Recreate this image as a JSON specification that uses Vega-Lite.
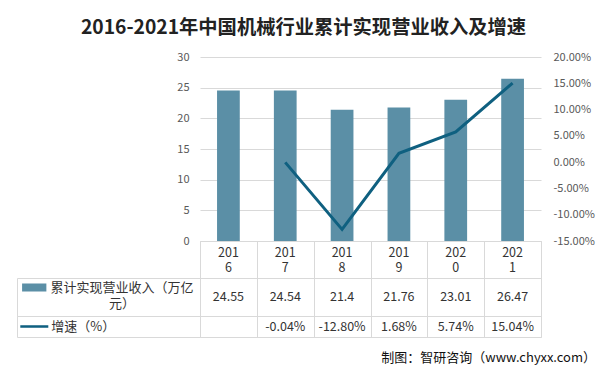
{
  "$schema": "https://vega.github.io/schema/vega-lite/v6.json",
  "background": "white",
  "padding": {"left": 16, "top": 18, "right": 0, "bottom": 0},
  "title": {"text": "2016-2021年中国机械行业累计实现营业收入及增速", "anchor": "start", "align": "center", "dx": 287, "fontSize": 19.3, "fontWeight": "bold", "color": "#222222", "font": "Noto Sans CJK SC", "offset": 13},
  "datasets": {
    "main": [
      {"year": "2016", "revenue": 24.55, "growth": null},
      {"year": "2017", "revenue": 24.54, "growth": -0.0004},
      {"year": "2018", "revenue": 21.4, "growth": -0.128},
      {"year": "2019", "revenue": 21.76, "growth": 0.0168},
      {"year": "2020", "revenue": 23.01, "growth": 0.0574},
      {"year": "2021", "revenue": 26.47, "growth": 0.1504}
    ]
  },
  "columns": 2,
  "spacing": 0,
  "bounds": "flush",
  "align": "each",
  "resolve": {"scale": {"x": "independent", "y": "independent"}},
  "concat": [
    {"width": 183, "height": 184, "data": {"values": []}, "mark": "point"},
    {
      "width": 341,
      "height": 184,
      "data": {"name": "main"},
      "encoding": {
        "x": {"field": "year", "type": "ordinal", "scale": {"domain": ["2016", "2017", "2018", "2019", "2020", "2021"], "paddingInner": 0, "paddingOuter": 0}, "axis": null}
      },
      "layer": [
        {
          "mark": {"type": "bar", "width": {"band": 0.4}, "color": "#5b8fa6"},
          "encoding": {
            "y": {"field": "revenue", "type": "quantitative", "scale": {"domain": [0, 30]},
              "axis": {"title": null, "values": [0, 5, 10, 15, 20, 25, 30], "grid": true, "gridColor": "#d9d9d9", "domain": false, "ticks": false, "labelPadding": 11, "labelFontSize": 11, "labelColor": "#595959"}}
          }
        },
        {
          "mark": {"type": "line", "color": "#0f6080", "strokeWidth": 3},
          "encoding": {
            "y": {"field": "growth", "type": "quantitative", "scale": {"domain": [-0.15, 0.2]},
              "axis": {"orient": "right", "title": null, "values": [-0.15, -0.1, -0.05, 0, 0.05, 0.1, 0.15, 0.2], "format": ".2%", "grid": false, "domain": false, "ticks": false, "labelPadding": 12, "labelFontSize": 11, "labelColor": "#595959"}}
          }
        }
      ],
      "resolve": {"scale": {"y": "independent"}, "axis": {"y": "independent"}}
    },
    {"width": 183, "height": 37, "data": {"values": []}, "mark": "point"},
    {
      "width": 341,
      "height": 37,
      "view": {"stroke": "#d9d9d9"},
      "data": {"name": "main"},
      "mark": {"type": "text", "align": "center", "baseline": "middle", "fontSize": 12.5, "lineHeight": 15, "color": "#333333", "dy": -7, "text": {"expr": "[slice(datum.year,0,3), slice(datum.year,3)]"}},
      "encoding": {
        "x": {"field": "year", "type": "ordinal", "scale": {"domain": ["2016", "2017", "2018", "2019", "2020", "2021"], "paddingInner": 0, "paddingOuter": 0},
          "axis": {"title": null, "labels": false, "ticks": false, "domain": false, "grid": true, "gridColor": "#d9d9d9", "tickBand": "extent", "minExtent": 0}}
      }
    },
    {
      "width": 183,
      "height": 38,
      "view": {"stroke": "#d9d9d9"},
      "data": {"values": [
        {"part": "swatch", "line": "line1", "series": "累计实现营业收入（万亿元）"},
        {"part": "label", "line": "line1", "series": "累计实现营业收入（万亿元）"}
      ]},
      "encoding": {
        "x": {"field": "part", "type": "nominal", "scale": {"type": "point", "domain": ["swatch", "label"], "padding": 0.542, "align": 0.181}, "axis": null},
        "y": {"field": "line", "type": "nominal", "scale": {"type": "point", "domain": ["line1", "line2"], "padding": 0.5, "align": 0.5}, "axis": null}
      },
      "layer": [
        {"transform": [{"filter": "datum.part === 'swatch'"}], "mark": {"type": "point", "shape": "M-1,-0.33H1V0.33H-1Z", "size": 590, "filled": true, "color": "#5b8fa6", "opacity": 1, "strokeWidth": 0}},
        {"transform": [{"filter": "datum.part === 'label'"}], "mark": {"type": "text", "align": "center", "baseline": "middle", "fontSize": 13, "lineHeight": 16.7, "color": "#333333", "text": {"expr": "[slice(datum.series,0,11), slice(datum.series,11)]"}}}
      ]
    },
    {
      "width": 341,
      "height": 38,
      "view": {"stroke": "#d9d9d9"},
      "data": {"name": "main"},
      "mark": {"type": "text", "align": "center", "baseline": "middle", "fontSize": 12.5, "color": "#333333"},
      "encoding": {
        "x": {"field": "year", "type": "ordinal", "scale": {"domain": ["2016", "2017", "2018", "2019", "2020", "2021"], "paddingInner": 0, "paddingOuter": 0},
          "axis": {"title": null, "labels": false, "ticks": false, "domain": false, "grid": true, "gridColor": "#d9d9d9", "tickBand": "extent", "minExtent": 0}},
        "text": {"field": "revenue", "type": "nominal"}
      }
    },
    {
      "width": 183,
      "height": 21,
      "view": {"stroke": "#d9d9d9"},
      "data": {"values": [
        {"gpart": "gswatch", "series": "增速（%）"},
        {"gpart": "glabel", "series": "增速（%）"}
      ]},
      "encoding": {
        "x": {"field": "gpart", "type": "nominal", "scale": {"type": "point", "domain": ["gswatch", "glabel"], "padding": 1, "align": 0.1418}, "axis": null}
      },
      "layer": [
        {"transform": [{"filter": "datum.gpart === 'gswatch'"}], "mark": {"type": "point", "shape": "M-1,-0.09H1V0.09H-1Z", "size": 784, "filled": true, "color": "#0f6080", "opacity": 1, "strokeWidth": 0}},
        {"transform": [{"filter": "datum.gpart === 'glabel'"}], "mark": {"type": "text", "align": "center", "baseline": "middle", "fontSize": 13, "color": "#333333", "dx": -12}, "encoding": {"text": {"field": "series", "type": "nominal"}}}
      ]
    },
    {
      "width": 341,
      "height": 21,
      "view": {"stroke": "#d9d9d9"},
      "data": {"name": "main"},
      "transform": [{"filter": "isValid(datum.growth)"}],
      "mark": {"type": "text", "align": "center", "baseline": "middle", "fontSize": 12.5, "color": "#333333"},
      "encoding": {
        "x": {"field": "year", "type": "ordinal", "scale": {"domain": ["2016", "2017", "2018", "2019", "2020", "2021"], "paddingInner": 0, "paddingOuter": 0},
          "axis": {"title": null, "labels": false, "ticks": false, "domain": false, "grid": true, "gridColor": "#d9d9d9", "tickBand": "extent", "minExtent": 0}},
        "text": {"field": "growth", "type": "quantitative", "format": ".2%"}
      }
    },
    {"width": 183, "height": 28, "data": {"values": []}, "mark": "point"},
    {
      "width": 396,
      "height": 28,
      "data": {"values": [{"note": "制图：智研咨询（www.chyxx.com）"}]},
      "mark": {"type": "text", "align": "right", "baseline": "middle", "fontSize": 13, "color": "#111111"},
      "encoding": {
        "text": {"field": "note", "type": "nominal"},
        "x": {"datum": 1, "type": "quantitative", "scale": {"domain": [0, 1]}, "axis": null},
        "y": {"datum": 0.25, "type": "quantitative", "scale": {"domain": [0, 1]}, "axis": null}
      }
    }
  ],
  "config": {
    "font": "Noto Sans CJK SC",
    "view": {"stroke": null},
    "locale": {"number": {"decimal": ".", "thousands": ",", "grouping": [3], "currency": ["$", ""], "minus": "-"}}
  }
}
